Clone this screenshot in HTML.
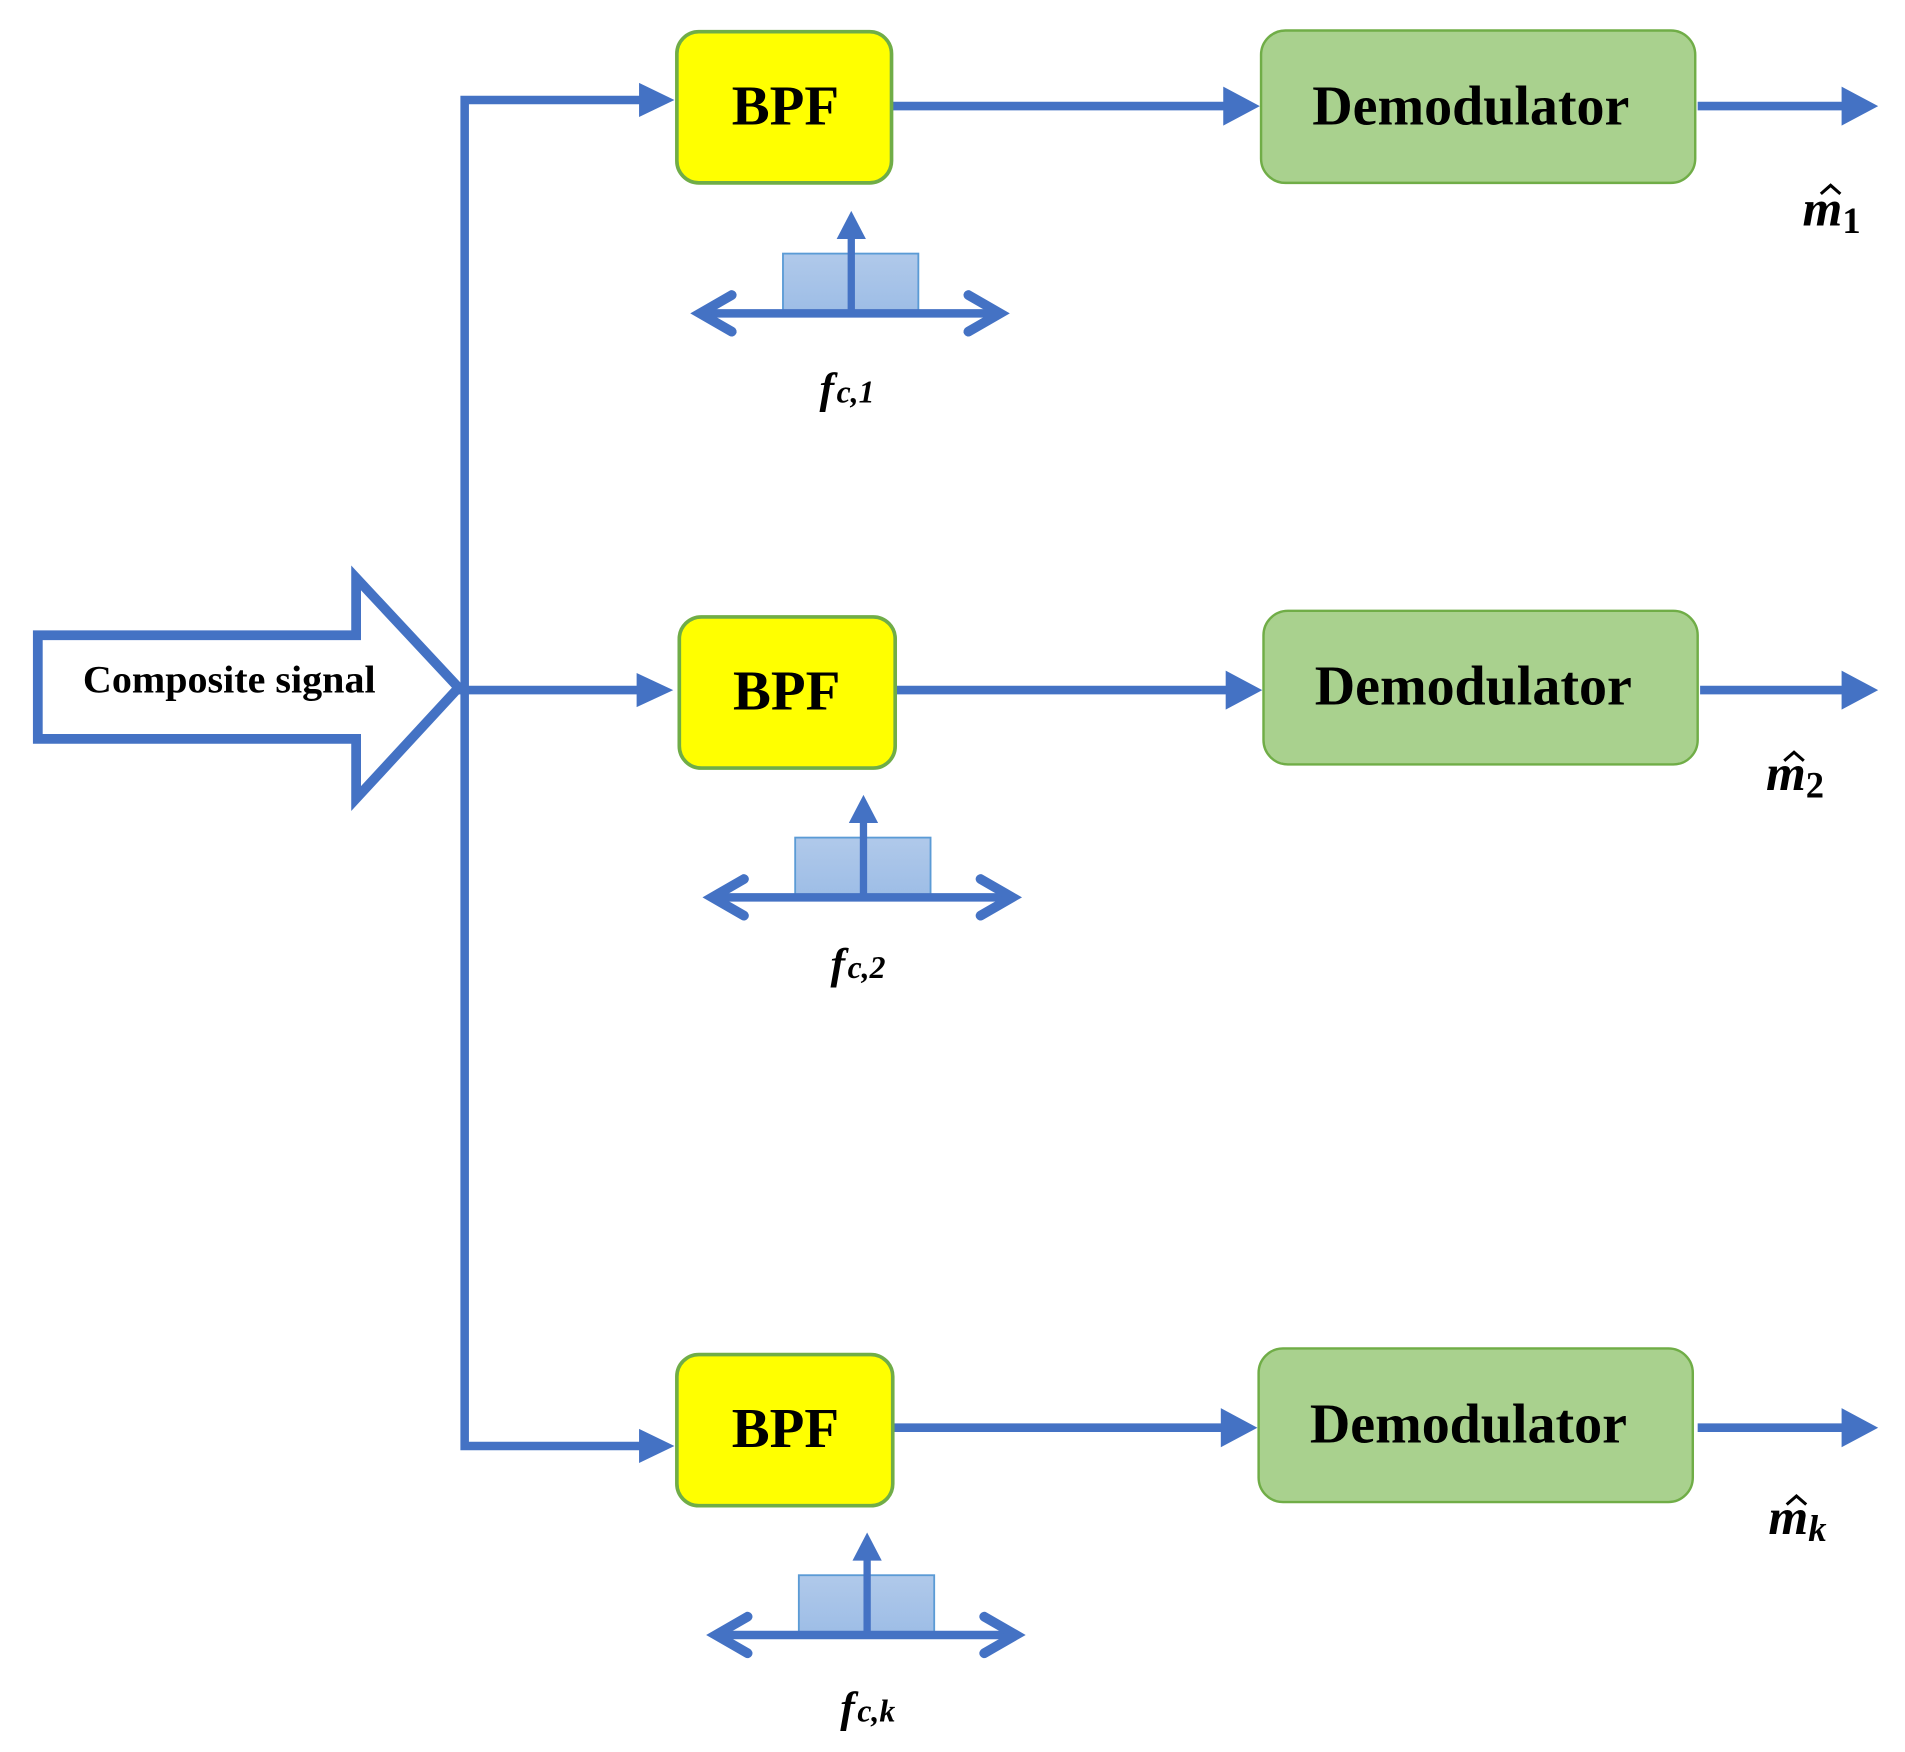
<!DOCTYPE html>
<html><head><meta charset="utf-8"><style>
html,body{margin:0;padding:0;background:#fff;}
svg{display:block;}
text{font-family:"Liberation Serif",serif;font-weight:bold;fill:#000;}
</style></head><body>
<svg width="1905" height="1752" viewBox="0 0 1562 1437" preserveAspectRatio="none" xmlns="http://www.w3.org/2000/svg">
<defs>
<linearGradient id="g" x1="0" y1="0" x2="0" y2="1"><stop offset="0" stop-color="#b0c9ea"/><stop offset="1" stop-color="#9dbde6"/></linearGradient>
</defs>
<polygon points="31,521 292,521 292,474 376,564 292,655 292,606 31,606" fill="#fff" stroke="#4472c4" stroke-width="8"/>
<text x="188" y="568" font-size="32" text-anchor="middle" textLength="240" lengthAdjust="spacingAndGlyphs">Composite signal</text>
<g stroke="#4472c4" stroke-width="7" fill="none">
<polyline points="528,82 381,82 381,1186 528,1186"/>
<line x1="376" y1="566" x2="528" y2="566"/>
<line x1="732" y1="87" x2="1008" y2="87"/>
<line x1="1392" y1="87" x2="1514" y2="87"/>
<line x1="735" y1="566" x2="1010" y2="566"/>
<line x1="1394" y1="566" x2="1514" y2="566"/>
<line x1="733" y1="1171" x2="1006" y2="1171"/>
<line x1="1392" y1="1171" x2="1514" y2="1171"/>
</g>
<g fill="#4472c4">
<polygon points="524,68 553,82 524,96"/>
<polygon points="522,552 552,566 522,580"/>
<polygon points="524,1172 553,1186 524,1200"/>
<polygon points="1003,71 1033,87 1003,103"/>
<polygon points="1005,550 1035,566 1005,582"/>
<polygon points="1001,1155 1031,1171 1001,1187"/>
<polygon points="1510,71 1540,87 1510,103"/>
<polygon points="1510,550 1540,566 1510,582"/>
<polygon points="1510,1155 1540,1171 1510,1187"/>
</g>
<g fill="#ffff00" stroke="#70ad47" stroke-width="3">
<rect x="555" y="26" width="176" height="124" rx="18"/>
<rect x="557" y="506" width="177" height="124" rx="18"/>
<rect x="555" y="1111" width="177" height="124" rx="18"/>
</g>
<g fill="#a9d18e" stroke="#70ad47" stroke-width="2">
<rect x="1034" y="25" width="356" height="125" rx="20"/>
<rect x="1036" y="501" width="356" height="126" rx="20"/>
<rect x="1032" y="1106" width="356" height="126" rx="20"/>
</g>
<g font-size="46" text-anchor="middle">
<text x="644" y="102" textLength="88" lengthAdjust="spacingAndGlyphs">BPF</text>
<text x="645" y="582" textLength="88" lengthAdjust="spacingAndGlyphs">BPF</text>
<text x="644" y="1187" textLength="88" lengthAdjust="spacingAndGlyphs">BPF</text>
<text x="1206" y="102" textLength="260" lengthAdjust="spacingAndGlyphs">Demodulator</text>
<text x="1208" y="578" textLength="260" lengthAdjust="spacingAndGlyphs">Demodulator</text>
<text x="1204" y="1183" textLength="260" lengthAdjust="spacingAndGlyphs">Demodulator</text>
</g>
<g id="f1">
<rect x="642" y="208" width="111" height="49" fill="url(#g)" stroke="#5b9bd5" stroke-width="1.5"/>
<line x1="575" y1="257" x2="818" y2="257" stroke="#4472c4" stroke-width="7"/>
<polyline points="600,242 574,257 600,272" fill="none" stroke="#4472c4" stroke-width="8" stroke-linecap="round"/>
<polyline points="794,242 820,257 794,272" fill="none" stroke="#4472c4" stroke-width="8" stroke-linecap="round"/>
<line x1="698" y1="257" x2="698" y2="192" stroke="#4472c4" stroke-width="6"/>
<polygon points="686,196 698,173 710,196" fill="#4472c4"/>
</g>
<use href="#f1" transform="translate(10,479)"/>
<use href="#f1" transform="translate(13,1084)"/>
<g font-style="italic">
<text x="672" y="330" font-size="36">f<tspan font-size="26" dx="2">c,1</tspan></text>
<text x="681" y="802" font-size="36">f<tspan font-size="26" dx="2">c,2</tspan></text>
<text x="689" y="1412" font-size="36">f<tspan font-size="26" dx="2">c,k</tspan></text>
<text x="1478" y="185" font-size="42">m<tspan font-size="30" dy="6" font-style="normal">1</tspan></text>
<text x="1448" y="648" font-size="42">m<tspan font-size="30" dy="6" font-style="normal">2</tspan></text>
<text x="1450" y="1258" font-size="42">m<tspan font-size="30" dy="6">k</tspan></text>
</g>
<g fill="none" stroke="#000" stroke-width="2.5">
<polyline points="1493,159 1501,152 1509,159"/>
<polyline points="1463,624 1471,617 1479,624"/>
<polyline points="1465,1234 1473,1227 1481,1234"/>
</g>
</svg>
</body></html>
